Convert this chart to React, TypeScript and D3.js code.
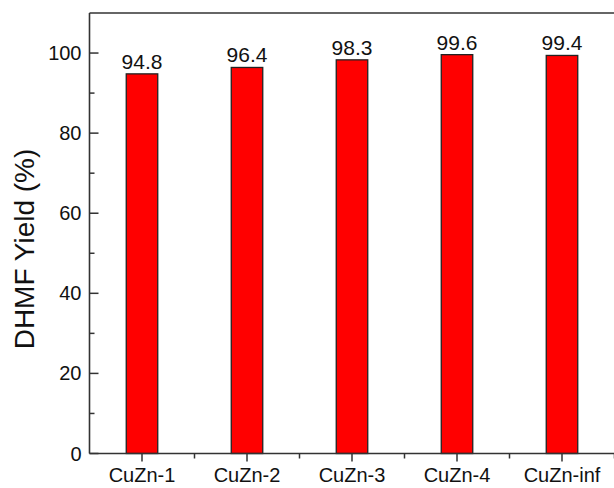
import React from "react";
import * as d3 from "d3";

const categories = ["CuZn-1", "CuZn-2", "CuZn-3", "CuZn-4", "CuZn-inf"];
const yields = [94.8, 96.4, 98.3, 99.6, 99.4];
const yTicks = [0, 20, 40, 60, 80, 100];
const yMinorTicks = [10, 30, 50, 70, 90];

const W = 614;
const H = 488;
const FONT = "'Liberation Sans', Arial, sans-serif";
const AXIS = "#333";

export default function App() {
  const left = 89.5, right = 614.5, top = 13, bottom = 453.5;
  const x = d3.scaleLinear().domain([0.5, 5.5]).range([left, right]);
  const y = d3.scaleLinear().domain([0, 110]).range([bottom, top]);
  const barW = 31.5;
  const minorX = d3.range(1, 6).map((i) => i + 0.5);
  return (
    <svg width={W} height={H} style={{ position: "absolute", left: 0, top: 0, display: "block" }}>
      <rect x={0} y={0} width={W} height={H} fill="#fff" />
      {yields.map((v, i) => (
        <rect
          key={i}
          x={x(i + 1) - barW / 2}
          y={y(v)}
          width={barW}
          height={y(0) - y(v)}
          fill="#ff0000"
          stroke="#222"
          strokeWidth={1.3}
        />
      ))}
      {yields.map((v, i) => (
        <text key={"l" + i} x={x(i + 1)} y={y(v) - 5} textAnchor="middle" fontFamily={FONT} fontSize={21} fill="#111">
          {v.toFixed(1)}
        </text>
      ))}
      {/* frame */}
      <line x1={left} x2={left} y1={top} y2={bottom} stroke={AXIS} strokeWidth={1.6} />
      <line x1={left} x2={right} y1={top} y2={top} stroke={AXIS} strokeWidth={1.6} />
      <line x1={left} x2={right} y1={bottom} y2={bottom} stroke={AXIS} strokeWidth={1.6} />
      {/* y ticks */}
      {yTicks.map((t) => (
        <g key={"yt" + t}>
          <line x1={left} x2={left + 9} y1={y(t)} y2={y(t)} stroke={AXIS} strokeWidth={1.5} />
          <text x={left - 8} y={y(t)} dy="0.35em" textAnchor="end" fontFamily={FONT} fontSize={20} fill="#111">
            {t}
          </text>
        </g>
      ))}
      {yMinorTicks.map((t) => (
        <line key={"ym" + t} x1={left} x2={left + 5} y1={y(t)} y2={y(t)} stroke={AXIS} strokeWidth={1.5} />
      ))}
      {/* x ticks */}
      {categories.map((c, i) => (
        <g key={"xt" + i}>
          <line x1={x(i + 1)} x2={x(i + 1)} y1={bottom} y2={bottom + 8} stroke={AXIS} strokeWidth={1.5} />
          <text x={x(i + 1)} y={bottom + 28} textAnchor="middle" fontFamily={FONT} fontSize={20} fill="#111">
            {c}
          </text>
        </g>
      ))}
      {minorX.map((m) => (
        <line key={"xm" + m} x1={x(m)} x2={x(m)} y1={bottom} y2={bottom + 5} stroke={AXIS} strokeWidth={1.5} />
      ))}
      <text
        transform={`translate(34, 249) rotate(-90)`}
        textAnchor="middle"
        fontFamily={FONT}
        fontSize={28}
        fill="#111"
      >
        DHMF Yield (%)
      </text>
    </svg>
  );
}
